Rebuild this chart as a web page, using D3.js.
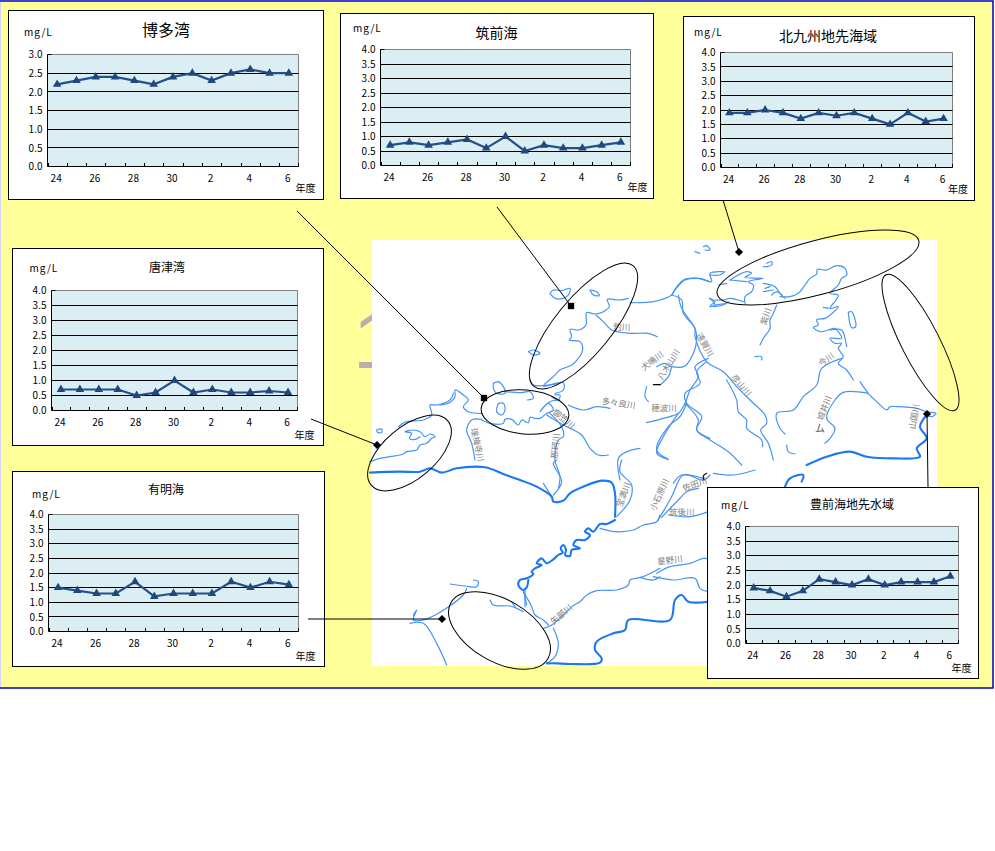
<!DOCTYPE html>
<html><head><meta charset="utf-8">
<script src="https://cdn.jsdelivr.net/npm/d3@7"></script>
<style>html,body{margin:0;padding:0;background:#fff}svg{display:block}
text{font-family:"Noto Sans CJK JP","Noto Sans",sans-serif}</style></head>
<body><div id="c"></div>
<script>
const years = ["24","25","26","27","28","29","30","1","2","3","4","5","6"];
const yearLabelsShown = ["24","26","28","30","2","4","6"];
const hakata = [2.2,2.3,2.4,2.4,2.3,2.2,2.4,2.5,2.3,2.5,2.6,2.5,2.5];
const chikuzen = [0.7,0.8,0.7,0.8,0.9,0.6,1.0,0.5,0.7,0.6,0.6,0.7,0.8];
const kitakyushu = [1.9,1.9,2.0,1.9,1.7,1.9,1.8,1.9,1.7,1.5,1.9,1.6,1.7];
const karatsu = [0.7,0.7,0.7,0.7,0.5,0.6,1.0,0.6,0.7,0.6,0.6,0.65,0.6];
const ariake = [1.5,1.4,1.3,1.3,1.7,1.2,1.3,1.3,1.3,1.7,1.5,1.7,1.6];
const buzen = [1.9,1.8,1.6,1.8,2.2,2.1,2.0,2.2,2.0,2.1,2.1,2.1,2.3];

const panels = [
 {name:"博多湾", values:hakata, ymax:3, box:[8.5,10.5,323.5,199.5], plot:[47.5,54.5,298.5,166.5], tx:166, ty:36, ts:16, ux:24, uy:36, fx:-3, fy:25},
 {name:"筑前海", values:chikuzen, ymax:4, box:[340.5,13.5,653.5,198.5], plot:[380.5,49.5,630.5,165.5], tx:496.5, ty:38, ts:14, ux:353, uy:32, fx:-3, fy:25},
 {name:"北九州地先海域", values:kitakyushu, ymax:4, box:[683.5,16.5,974.5,200.5], plot:[720.5,52.5,952.5,167.5], tx:828, ty:41, ts:14, ux:694, uy:36, fx:-4.5, fy:25},
 {name:"唐津湾", values:karatsu, ymax:4, box:[12.5,248.5,323.5,445.5], plot:[51.5,290.5,297.5,410.5], tx:167, ty:272, ts:12, ux:29.5, uy:272, fx:-3, fy:28},
 {name:"有明海", values:ariake, ymax:4, box:[12.5,471.5,324.5,666.5], plot:[48.5,514.5,298.5,631.5], tx:166, ty:494, ts:12, ux:32, uy:498, fx:-3, fy:28},
 {name:"豊前海地先水域", values:buzen, ymax:4, box:[707.5,487.5,978.5,678.5], plot:[745.5,526.5,958.5,643.5], tx:852, ty:509, ts:12, ux:721, uy:509, fx:-7, fy:28}
];

// Map tracings: coordinates on six map sheets (each traced at 3x), placed through scales
const sheetOrigins = {A:[370,230], B:[640,230], C:[370,460], D:[710,250], E:[440,380], F:[490,500]};
const thinRivers = {
 A:[
  [[540,190],[550,180],[575,182],[600,175],[595,195],[580,205],[555,205],[540,190]],
  [[660,180],[680,185],[688,197],[670,195],[660,180]],
  [[780,218],[850,215],[905,195],[915,180],[945,150],[985,145],[1020,155]],
  [[775,205],[745,210],[712,208],[718,230],[700,245],[675,252],[650,248],[648,285],[625,300],[600,298],[605,320],[598,330],[630,335],[638,360],[625,385],[605,405],[570,420],[550,440],[520,468],[580,458],[580,480],[555,490]],
  [[678,255],[700,275],[725,300],[780,310],[835,310],[862,320]],
  [[475,365],[490,360],[510,370],[490,375],[475,365]],
  [[85,590],[110,575],[160,570],[185,555],[180,525],[200,525],[240,510],[250,490]],
  [[20,600],[35,597],[35,607],[22,607],[20,600]],
  [[0,695],[30,685],[60,680],[100,672],[110,665],[140,660],[150,645],[170,640],[185,625],[195,620],[180,612],[165,620],[150,605],[130,600],[105,605],[125,610],[118,625],[135,628],[150,620]],
  [[750,750],[745,685],[770,665],[810,655]],
  [[830,578],[880,565],[925,550],[945,520],[960,480],[985,440],[975,410],[1015,385]],
  [[945,520],[985,570],[980,600],[1020,625]],
  [[925,550],[880,620],[860,670],[895,688]],
  [[830,470],[825,500],[835,515]],
  [[860,410],[885,400],[905,410],[945,408],[970,370],[980,330],[975,295],[935,235],[925,195]],
  [[905,410],[895,440],[870,465]]
 ],
 B:[
  [[95,195],[130,150],[175,145],[215,155],[210,130],[250,125]],
  [[95,195],[125,210],[130,250],[165,295],[165,320],[200,395],[250,425],[290,470],[330,510],[375,555],[380,580],[362,600],[385,640],[400,690]],
  [[200,395],[170,425],[180,460],[135,490],[140,520],[185,560],[170,600],[210,630],[265,665],[305,705]],
  [[140,520],[120,560],[85,590],[50,660],[85,688]],
  [[260,450],[290,510],[295,545],[320,570],[320,595],[365,630],[368,650]],
  [[208,205],[225,215],[210,228],[250,225],[265,215]],
  [[660,455],[685,490],[710,515],[740,540],[750,530],[770,530],[830,535],[860,545],[888,550],[875,560],[860,555]],
  [[605,385],[545,415],[530,465],[490,500],[460,540],[410,550],[420,595],[435,612]],
  [[685,490],[610,487],[585,510],[560,565],[585,595],[570,625],[555,640]],
  [[440,645],[445,665],[465,672]],
  [[165,65],[180,70]],
  [[190,50],[200,47],[210,60],[195,60]],
  [[220,730],[280,735],[345,720]],
  [[100,760],[125,735],[190,745]]
 ],
 C:[
  [[550,105],[575,65],[550,10],[560,0]],
  [[545,110],[520,70]],
  [[755,0],[750,35],[785,75],[780,120],[740,170]],
  [[865,180],[905,110],[940,45],[1000,60],[1020,45]],
  [[875,172],[925,120],[950,95],[985,85]],
  [[895,165],[960,170],[1015,155]],
  [[860,340],[900,320],[960,310],[1000,295],[1020,298]],
  [[850,350],[910,360],[975,355],[990,385],[1015,395]],
  [[240,372],[285,378],[320,380],[325,365],[310,360]],
  [[290,385],[280,405],[175,475],[130,480],[140,450],[130,465]],
  [[120,490],[160,490],[200,550],[230,615]],
  [[550,505],[565,550],[555,590],[530,610]]
 ],
 D:[
  [[210,140],[240,140],[265,130],[285,105],[300,85],[320,72],[322,58],[350,60],[380,47],[405,55],[410,75],[395,85],[385,105],[360,130],[385,135],[378,150],[360,175],[385,170],[360,195],[345,205],[320,210],[325,225],[310,232],[330,245],[355,240],[375,235],[385,245],[395,265],[360,265],[375,280],[395,280],[385,295],[400,320],[385,340],[410,360],[430,390]],
  [[355,175],[340,172]],[[360,240],[395,240],[405,265],[410,290]],
  [[0,75],[30,75],[45,65]],
  [[60,90],[110,65],[125,70],[105,82],[160,85],[115,95],[130,105],[125,125],[105,140],[105,160]],
  [[0,145],[15,165],[0,170]],[[15,150],[40,150],[60,145],[100,155]],[[15,165],[50,160]],
  [[60,90],[110,95]],[[50,100],[25,105]],
  [[160,100],[195,110],[210,130],[225,145]],[[160,125],[190,120]],[[165,115],[180,110]],[[185,135],[200,125],[215,135]],
  [[170,40],[185,35],[185,45],[170,50],[160,50]],
  [[200,165],[190,190],[180,210],[180,235],[160,265],[150,285]],
  [[415,187],[425,185],[437,230],[425,233],[415,187]],
  [[135,320],[155,320],[155,330]]
 ],
 E:[
  [[0,75],[25,70],[45,50],[45,30],[70,45],[85,60],[70,80],[85,95],[125,100]],
  [[160,10],[175,5],[190,20],[195,40],[170,40],[160,25],[160,10]],
  [[270,0],[280,15],[330,15],[355,10]],
  [[195,35],[245,38],[270,35],[280,55],[262,60]],
  [[175,70],[190,70],[195,90],[185,105],[170,95],[175,70]],
  [[125,120],[150,130],[190,130],[195,118],[215,118],[235,135],[245,120],[265,128],[270,112],[285,115],[300,115],[320,100],[340,90],[325,70],[300,95],[330,65],[360,60]],
  [[335,50],[355,60],[360,45],[345,45]],
  [[125,118],[95,120],[80,150],[95,190],[105,240]],
  [[330,100],[365,140],[370,170],[355,180],[345,240],[360,290],[355,325]],
  [[320,105],[370,135],[425,165],[450,205],[475,225],[505,225]],
  [[385,75],[430,90],[470,80],[510,85]]
 ],
 F:[
  [[105,265],[105,320]],
  [[100,270],[110,315]],
  [[100,275],[125,320],[135,345],[160,360],[175,375]],
  [[65,305],[75,320]],
  [[0,300],[10,315],[60,318],[80,325],[100,335]],
  [[330,85],[375,95],[430,90],[460,75],[500,65],[510,45]],
  [[160,385],[185,375],[225,340],[248,318],[270,305],[290,285],[320,272],[380,270],[415,255],[420,240],[460,230],[510,205]],
  [[450,232],[490,240],[510,230]]
 ]
};
const thickRivers = {
 B:[
  [[500,705],[560,680],[630,665],[680,680],[760,685],[840,680],[830,655],[860,625],[840,590],[860,555]],
  [[435,770],[450,745],[490,735],[485,755]]
 ],
 C:[
  [[0,38],[90,35],[150,35],[180,25],[215,38],[260,25],[345,22],[400,42],[450,60],[500,80],[545,110],[550,125],[580,122],[600,100],[640,80],[695,62],[725,68],[735,100],[735,170]],
  [[530,610],[560,610],[600,612],[690,608],[695,595],[675,570],[680,545],[730,520],[765,510],[775,480],[900,480],[915,420],[935,405],[955,425],[1015,425]]
 ],
 F:[
  [[375,60],[350,72],[330,72],[310,95],[295,85],[285,95],[300,105],[285,120],[260,120],[250,135],[270,145],[245,150],[240,168],[225,165],[228,150],[220,135],[212,145],[218,158],[205,165],[190,178],[170,190],[155,175],[140,190],[155,195],[135,205],[125,215],[130,222],[110,235],[90,240],[85,255],[100,270],[110,262],[115,240]]
 ]
};
const blackMarks = {
 A:[[[850,464],[870,464]]],
 B:[[[200,730],[190,738],[192,750]]]
};
const riverLabels = [
 ["A","釣川",755,293,0],["A","遠賀川",1003,345,60],["A","犬鳴川",848,395,-38],["A","八木山川",898,405,-58],
 ["A","多々良川",745,522,8],["A","穂波川",882,535,0],["A","御笠川",580,568,40],["A","那珂川",558,648,-85],["A","瑞梅寺川",320,645,78],
 ["B","紫川",380,260,-70],["B","彦山川",302,467,50],["B","今川",560,390,-35],["B","城井川",555,535,-70],["B","山国川",825,560,-80],
 ["C","宝満川",762,105,-70],["C","小石原川",870,105,-65],["C","佐田川",975,75,-20],["C","筑後川",935,157,0],["C","星野川",900,303,-8],["C","矢部川",575,465,-40]
];
const ellipses = [
 [583.5,326,78,28,-50.6],[525,412,44,22,5],[409.5,453,50,26,-40],
 [818,267.5,104.3,27,-15],[920.5,342.5,76,19,63],[499.5,630.5,56,31,30]
];
const leaders = [
 [297,211,484,398,"square"],[497,207,571,306,"square"],[723,200,739,252,"diamond"],
 [311,419,377,445,"diamond"],[308,619,442,619,"diamond"],[928,487,927,414,"diamond"]
];

const svg = d3.select("#c").append("svg").attr("width",995).attr("height",851);
svg.append("rect").attr("x",0).attr("y",0).attr("width",995).attr("height",851).attr("fill","#fff");
svg.append("rect").attr("x",1).attr("y",1.5).attr("width",992).attr("height",686).attr("fill","#FFFF99");
svg.append("path").attr("d","M0,1H993V688H0").attr("fill","none").attr("stroke","#0000c8").attr("stroke-width",1.5);
svg.append("line").attr("x1",0.5).attr("x2",0.5).attr("y1",2).attr("y2",687).attr("stroke","#d4d4ff");
svg.append("text").attr("x",353).attr("y",368).attr("font-size",80).attr("fill","#b8b0b0").style("font-family","Liberation Sans").text("1");
svg.append("rect").attr("x",372).attr("y",240).attr("width",565).attr("height",426).attr("fill","#fff");

const mapG = svg.append("g");
const sheetScale = k => ({
 x:d3.scaleLinear().domain([0,1020]).range([sheetOrigins[k][0],sheetOrigins[k][0]+340]),
 y:d3.scaleLinear().domain([0,1020]).range([sheetOrigins[k][1],sheetOrigins[k][1]+340])});
function drawRivers(set,color,w){
 Object.keys(set).forEach(k=>{
  const s=sheetScale(k);
  const line=d3.line().x(d=>s.x(d[0])).y(d=>s.y(d[1])).curve(d3.curveCatmullRom.alpha(0.5));
  mapG.selectAll(null).data(set[k]).join("path").attr("d",line).attr("fill","none")
   .attr("stroke",color).attr("stroke-width",w).attr("stroke-linejoin","round").attr("stroke-linecap","round");
 });
}
drawRivers(thinRivers,"#4593f5",1.2);
drawRivers(thickRivers,"#1a78f2",2.1);
drawRivers(blackMarks,"#000",1.1);
riverLabels.forEach(([k,t,x,y,r])=>{
 const s=sheetScale(k);
 mapG.append("text").attr("transform",`translate(${s.x(x)},${s.y(y)}) rotate(${r})`)
  .attr("text-anchor","middle").attr("dominant-baseline","middle").attr("font-size",8.5).attr("fill","#808080").text(t);
});
{const s=sheetScale("B");
 mapG.append("text").attr("x",s.x(540)).attr("y",s.y(605)).attr("text-anchor","middle").attr("font-size",10).attr("fill","#555").text("ム");
}

svg.selectAll(null).data(ellipses).join("ellipse")
 .attr("transform",d=>`translate(${d[0]},${d[1]}) rotate(${d[4]})`)
 .attr("rx",d=>d[2]).attr("ry",d=>d[3]).attr("fill","none").attr("stroke","#000").attr("stroke-width",1);

panels.forEach(p=>{
 const [bx0,by0,bx1,by1]=p.box,[px0,py0,px1,py1]=p.plot;
 const g=svg.append("g");
 g.append("rect").attr("x",bx0).attr("y",by0).attr("width",bx1-bx0).attr("height",by1-by0).attr("fill","#fff").attr("stroke","#000").attr("stroke-width",1);
 const x=d3.scaleBand().domain(years).range([px0,px1]);
 const y=d3.scaleLinear().domain([0,p.ymax]).range([py1,py0]);
 const yt=d3.range(0,p.ymax+0.01,0.5);
 g.append("rect").attr("x",px0).attr("y",py0).attr("width",px1-px0).attr("height",py1-py0).attr("fill","#DAEEF3");
 g.append("path").attr("d",`M${px0},${py0}H${px1}V${py1}`).attr("fill","none").attr("stroke","#808080");
 g.selectAll(null).data(yt.slice(1,-1)).join("line").attr("x1",px0).attr("x2",px1)
  .attr("y1",d=>Math.round(y(d)-0.5)+0.5).attr("y2",d=>Math.round(y(d)-0.5)+0.5).attr("stroke","#000");
 const ya=g.append("g").attr("transform",`translate(${px0},0)`).call(d3.axisLeft(y).tickValues(yt).tickFormat(d3.format(".1f")).tickSize(0).tickPadding(5));
 ya.select(".domain").attr("stroke","#000").attr("d",`M0,${py0}V${py1}`);
 ya.selectAll("text").attr("font-size",10).attr("fill","#000");
 g.append("line").attr("x1",px0).attr("x2",px0+4).attr("y1",py0).attr("y2",py0).attr("stroke","#000");
 const xa=g.append("g").attr("transform",`translate(0,${py1})`).call(d3.axisBottom(x).tickValues(yearLabelsShown).tickSize(0).tickPadding(8));
 xa.select(".domain").attr("stroke","#000").attr("d",`M${px0},0H${px1}`);
 xa.selectAll("text").attr("font-size",10).attr("fill","#000").attr("dx",-1);
 g.selectAll(null).data(years.concat(["end"])).join("line")
  .attr("x1",d=>d==="end"?px1:Math.round(x(d))+0.5).attr("x2",d=>d==="end"?px1:Math.round(x(d))+0.5)
  .attr("y1",py1-3.5).attr("y2",py1).attr("stroke","#000");
 const pts=p.values.map((v,i)=>[x(years[i])+x.bandwidth()/2,y(v)]);
 g.append("path").attr("d",d3.line()(pts)).attr("fill","none").attr("stroke","#24508a").attr("stroke-width",2.2);
 g.selectAll(null).data(pts).join("path").attr("transform",d=>`translate(${d[0]},${d[1]})`)
  .attr("d",d3.symbol(d3.symbolTriangle,32)()).attr("fill","#1F497D");
 g.append("text").attr("x",p.tx).attr("y",p.ty).attr("text-anchor","middle").attr("font-size",p.ts).attr("fill","#000").text(p.name);
 g.append("text").attr("x",p.ux).attr("y",p.uy).attr("font-size",10).attr("letter-spacing",1).attr("fill","#000").text("mg/L");
 g.append("text").attr("x",px1+p.fx).attr("y",py1+p.fy).attr("font-size",10).attr("fill","#000").text("年度");
});

// leaders sit above the chart boxes
svg.selectAll(null).data(leaders).join("line")
 .attr("x1",d=>d[0]).attr("y1",d=>d[1]).attr("x2",d=>d[2]).attr("y2",d=>d[3]).attr("stroke","#000").attr("stroke-width",1);
svg.selectAll(null).data(leaders).join("path")
 .attr("transform",d=>`translate(${d[2]},${d[3]})`)
 .attr("d",d=>d3.symbol(d[4]==="square"?d3.symbolSquare:d3.symbolDiamond2,d[4]==="square"?40:42)())
 .attr("fill","#000");
</script></body></html>
